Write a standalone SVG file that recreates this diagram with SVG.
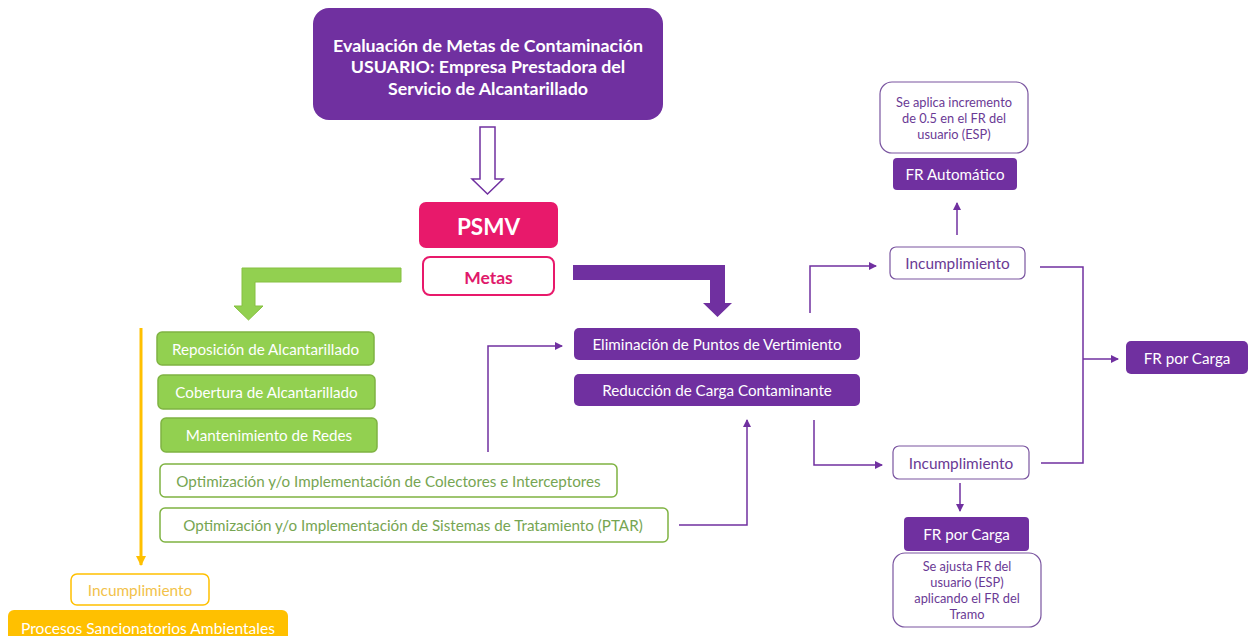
<svg xmlns="http://www.w3.org/2000/svg" width="1249" height="636" viewBox="0 0 1249 636">
<style>
text{font-family:Lato,"Open Sans","Liberation Sans",sans-serif;text-anchor:middle;dominant-baseline:central}
.pbox{fill:#7030a0}
.wt{fill:#ffffff;font-size:15.2px}
.gbox{fill:#92d050;stroke:#7fb342;stroke-width:1.5}
.gout{fill:#ffffff;stroke:#7fb342;stroke-width:1.5}
.gt{fill:#76a552;font-size:15.2px}
.obox{fill:#ffffff;stroke:#7a55a0;stroke-width:1.2}
.pt{fill:#6a3a95;font-size:15.4px}
.st{fill:#6a3a95;font-size:12.8px}
.con{fill:none;stroke:#7030a0;stroke-width:1.5}
</style>
<defs>
<marker id="ah" markerWidth="8" markerHeight="8" refX="7" refY="4" orient="auto" markerUnits="userSpaceOnUse">
<path d="M0,0 L8,4 L0,8 Z" fill="#7030a0"/>
</marker>
<marker id="ahy" markerWidth="10" markerHeight="10" refX="9" refY="5" orient="auto" markerUnits="userSpaceOnUse">
<path d="M0,0 L10,5 L0,10 Z" fill="#ffc000"/>
</marker>
</defs>

<g id="connectors">
<path d="M480,127 L495,127 L495,179 L503,179 L487.5,194 L472,179 L480,179 Z" fill="#ffffff" stroke="#7030a0" stroke-width="1.5"/>
<path d="M401,268 L401,282 L255,282 L255,306 L263,306 L248.5,320 L234,306 L242,306 L242,268 Z" fill="#92d050" stroke="#86c040" stroke-width="1"/>
<path d="M573,265 L725,265 L725,303 L732,303 L717.5,317 L703,303 L710,303 L710,280 L573,280 Z" fill="#7030a0"/>
<path d="M141,328 L141,565" fill="none" stroke="#ffc000" stroke-width="3" marker-end="url(#ahy)"/>
<path class="con" d="M488,452 L488,346 L562,346" marker-end="url(#ah)"/>
<path class="con" d="M679,525 L747,525 L747,420" marker-end="url(#ah)"/>
<path class="con" d="M810,313 L810,266 L876,266" marker-end="url(#ah)"/>
<path class="con" d="M814,420 L814,465 L882,465" marker-end="url(#ah)"/>
<path class="con" d="M1040,267 L1083,267 L1083,463 L1041,463"/>
<path class="con" d="M1083,359 L1118,359" marker-end="url(#ah)"/>
<path class="con" d="M957,235 L957,203" marker-end="url(#ah)"/>
<path class="con" d="M960,483 L960,511" marker-end="url(#ah)"/>
</g>

<g id="title">
<rect x="313" y="8" width="350" height="112" rx="16" fill="#7030a0"/>
<text x="488" y="45" fill="#ffffff" font-size="17.8" font-weight="bold">Evaluación de Metas de Contaminación</text>
<text x="488" y="66" fill="#ffffff" font-size="17.8" font-weight="bold">USUARIO: Empresa Prestadora del</text>
<text x="488" y="88" fill="#ffffff" font-size="17.8" font-weight="bold">Servicio de Alcantarillado</text>
</g>

<g id="psmv">
<rect x="419" y="202" width="139" height="46" rx="7" fill="#e8196b"/>
<text x="488.5" y="226" fill="#ffffff" font-size="22.5" font-weight="bold">PSMV</text>
</g>

<g id="metas">
<rect x="423" y="257" width="131" height="38" rx="7" fill="#ffffff" stroke="#e8196b" stroke-width="2"/>
<text x="488.5" y="277" fill="#e0196b" font-size="17.5" font-weight="bold">Metas</text>
</g>

<g id="reposicion">
<rect class="gbox" x="157" y="332" width="217" height="33" rx="5"/>
<text class="wt" x="265.5" y="349">Reposición de Alcantarillado</text>
</g>
<g id="cobertura">
<rect class="gbox" x="158" y="375" width="217" height="34" rx="5"/>
<text class="wt" x="266.5" y="392">Cobertura de Alcantarillado</text>
</g>
<g id="mantenimiento">
<rect class="gbox" x="161" y="418" width="216" height="34" rx="5"/>
<text class="wt" x="269" y="435">Mantenimiento de Redes</text>
</g>
<g id="colectores">
<rect class="gout" x="160" y="464" width="457" height="33" rx="5"/>
<text class="gt" x="388.5" y="481">Optimización y/o Implementación de Colectores e Interceptores</text>
</g>
<g id="ptar">
<rect class="gout" x="160" y="508" width="508" height="34" rx="5"/>
<text class="gt" x="413" y="525">Optimización y/o Implementación de Sistemas de Tratamiento (PTAR)</text>
</g>

<g id="eliminacion">
<rect class="pbox" x="574" y="328" width="286" height="32" rx="5"/>
<text class="wt" x="717" y="344">Eliminación de Puntos de Vertimiento</text>
</g>
<g id="reduccion">
<rect class="pbox" x="574" y="374" width="286" height="32" rx="5"/>
<text class="wt" x="717" y="390">Reducción de Carga Contaminante</text>
</g>

<g id="incumplimiento-top">
<rect class="obox" x="890" y="247" width="135" height="32" rx="6"/>
<text class="pt" x="957.5" y="263">Incumplimiento</text>
</g>
<g id="fr-automatico">
<rect class="pbox" x="893" y="158" width="124" height="32" rx="4"/>
<text class="wt" x="955" y="174">FR Automático</text>
</g>
<g id="incremento">
<rect class="obox" x="880" y="82" width="148" height="71" rx="12"/>
<text class="st" x="954" y="102">Se aplica incremento</text>
<text class="st" x="954" y="118">de 0.5 en el FR del</text>
<text class="st" x="954" y="134">usuario (ESP)</text>
</g>

<g id="fr-carga-right">
<rect class="pbox" x="1126" y="341" width="122" height="33" rx="5"/>
<text class="wt" x="1187" y="357.5">FR por Carga</text>
</g>

<g id="incumplimiento-bottom">
<rect class="obox" x="893" y="446" width="136" height="33" rx="6"/>
<text class="pt" x="961" y="462.5">Incumplimiento</text>
</g>
<g id="fr-carga-bottom">
<rect class="pbox" x="904" y="517" width="125" height="34" rx="4"/>
<text class="wt" x="966.5" y="534">FR por Carga</text>
</g>
<g id="ajusta">
<rect class="obox" x="893" y="553" width="148" height="74" rx="12"/>
<text class="st" x="967" y="566">Se ajusta FR del</text>
<text class="st" x="967" y="582">usuario (ESP)</text>
<text class="st" x="967" y="598">aplicando el FR del</text>
<text class="st" x="967" y="614">Tramo</text>
</g>

<g id="incumplimiento-yellow">
<rect x="71" y="574" width="138" height="31" rx="6" fill="#ffffff" stroke="#ffc000" stroke-width="1.5"/>
<text x="140" y="589.5" fill="#f2c24a" font-size="15.4">Incumplimiento</text>
</g>
<g id="procesos">
<rect x="8" y="610" width="280" height="40" rx="6" fill="#ffc000"/>
<text x="148" y="628" fill="#ffffff" font-size="15.6">Procesos Sancionatorios Ambientales</text>
</g>
</svg>
